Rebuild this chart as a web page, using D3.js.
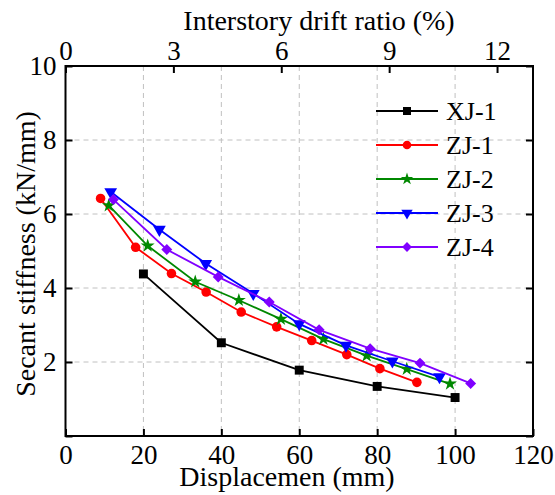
<!DOCTYPE html>
<html>
<head>
<meta charset="utf-8">
<script src="https://cdn.jsdelivr.net/npm/d3@7"></script>
<style>
  body { margin: 0; background: #fff; }
  text { font-family: "Liberation Serif", "Times New Roman", serif; fill: #000; }
</style>
</head>
<body>
<div class="graphContainer"></div>
<script>
var width = 555;
var height = 495;

// data
var seriesNames = ["XJ-1", "ZJ-1", "ZJ-2", "ZJ-3", "ZJ-4"];
var xj1X = [20, 40, 60, 80, 100];
var xj1Y = [4.38, 2.52, 1.78, 1.34, 1.04];
var zj1X = [9, 18, 27.2, 36.1, 45.1, 54.2, 63.2, 72.2, 80.7, 90.2];
var zj1Y = [6.42, 5.10, 4.39, 3.89, 3.35, 2.95, 2.58, 2.20, 1.82, 1.45];
var zj2X = [11.1, 21.1, 33.3, 44.5, 55.3, 66.2, 77.3, 87.6, 98.7];
var zj2Y = [6.23, 5.14, 4.17, 3.67, 3.16, 2.62, 2.17, 1.81, 1.41];
var zj3X = [11.6, 24.1, 36, 48.2, 60, 72, 83.9, 96];
var zj3Y = [6.60, 5.58, 4.66, 3.85, 3.03, 2.45, 2.02, 1.60];
var zj4X = [12.3, 26, 39.2, 52.3, 65.1, 78.2, 91, 104];
var zj4Y = [6.39, 5.04, 4.30, 3.62, 2.87, 2.36, 1.97, 1.42];

var xTicks = [0, 20, 40, 60, 80, 100, 120];
var topTicks = [0, 3, 6, 9, 12];
var yTicks = [0, 2, 4, 6, 8, 10];

var colors = ["#000000", "#ff0000", "#008800", "#0000ff", "#8000ff"];

var svg = d3
  .select(".graphContainer")
  .append("svg")
  .attr("width", width)
  .attr("height", height);

var pLeft = 65.5, pRight = 533, pTop = 66, pBottom = 436;

var xScale = d3.scaleLinear().domain([0, 120]).range([pLeft, pRight]);
var topScale = d3.scaleLinear().domain([0, 13]).range([pLeft, pRight]);
var yScale = d3.scaleLinear().domain([0, 10]).range([pBottom, pTop]);

// grid
var grid = svg.append("g").attr("stroke", "#c0c0c0").attr("stroke-width", 1).attr("stroke-dasharray", "5,4");
grid.selectAll("line.vx")
  .data([20, 40, 60, 80, 100])
  .enter()
  .append("line")
  .attr("class", "vx")
  .attr("x1", (d) => xScale(d))
  .attr("x2", (d) => xScale(d))
  .attr("y1", pTop)
  .attr("y2", pBottom);
grid.selectAll("line.hy")
  .data([2, 4, 6, 8])
  .enter()
  .append("line")
  .attr("class", "hy")
  .attr("x1", pLeft)
  .attr("x2", pRight)
  .attr("y1", (d) => yScale(d))
  .attr("y2", (d) => yScale(d));

// axes
function styleAxis(g, size) {
  g.select(".domain").remove();
  g.selectAll(".tick line").attr("stroke", "#000").attr("stroke-width", 2);
  g.selectAll(".tick text").style("font-size", size + "px").attr("fill", "#000");
}

svg.append("g")
  .attr("transform", "translate(0," + pBottom + ")")
  .call(d3.axisBottom(xScale).tickValues(xTicks).tickSizeInner(-7).tickSizeOuter(0).tickPadding(9))
  .call((g) => styleAxis(g, 27));

svg.append("g")
  .attr("transform", "translate(0," + pTop + ")")
  .call(d3.axisTop(topScale).tickValues(topTicks).tickSizeInner(-7).tickSizeOuter(0).tickPadding(6))
  .call((g) => styleAxis(g, 27));

svg.append("g")
  .attr("transform", "translate(" + pLeft + ",0)")
  .call(d3.axisLeft(yScale).tickValues(yTicks).tickSizeInner(-7).tickSizeOuter(0).tickPadding(9)
    .tickFormat((d) => (d === 0 ? "" : d)))
  .call((g) => styleAxis(g, 27));

svg.append("g")
  .attr("transform", "translate(" + pRight + ",0)")
  .call(d3.axisRight(yScale).tickValues(yTicks).tickSizeInner(-7).tickSizeOuter(0).tickFormat(""))
  .call((g) => styleAxis(g, 27));

// frame
svg.append("rect")
  .attr("x", pLeft)
  .attr("y", pTop)
  .attr("width", pRight - pLeft)
  .attr("height", pBottom - pTop)
  .attr("fill", "none")
  .attr("stroke", "#000")
  .attr("stroke-width", 2);

// titles
svg.append("text")
  .attr("x", 319)
  .attr("y", 30)
  .attr("text-anchor", "middle")
  .style("font-size", "28px")
  .text("Interstory drift ratio (%)");

svg.append("text")
  .attr("x", 287)
  .attr("y", 486)
  .attr("text-anchor", "middle")
  .style("font-size", "28px")
  .text("Displacemen (mm)");

svg.append("text")
  .attr("transform", "translate(35,254) rotate(-90)")
  .attr("text-anchor", "middle")
  .style("font-size", "28px")
  .text("Secant stiffness (kN/mm)");

// series
var series = [
  { name: seriesNames[0], xs: xj1X, ys: xj1Y, symbol: d3.symbolSquare, size: 80, rot: 0 },
  { name: seriesNames[1], xs: zj1X, ys: zj1Y, symbol: d3.symbolCircle, size: 72, rot: 0 },
  { name: seriesNames[2], xs: zj2X, ys: zj2Y, symbol: d3.symbolStar, size: 60, rot: 0 },
  { name: seriesNames[3], xs: zj3X, ys: zj3Y, symbol: d3.symbolTriangle, size: 70, rot: 180 },
  { name: seriesNames[4], xs: zj4X, ys: zj4Y, symbol: d3.symbolSquare, size: 60, rot: 45 }
];

var line = d3.line()
  .x((d) => xScale(d[0]))
  .y((d) => yScale(d[1]));

series.forEach(function (s, i) {
  var pts = s.xs.map((x, j) => [x, s.ys[j]]);
  svg.append("path")
    .datum(pts)
    .attr("d", line)
    .attr("fill", "none")
    .attr("stroke", colors[i])
    .attr("stroke-width", 1.8);
  svg.selectAll("path.m" + i)
    .data(pts)
    .enter()
    .append("path")
    .attr("class", "m" + i)
    .attr("d", d3.symbol().type(s.symbol).size(s.size))
    .attr("transform", (d) => "translate(" + xScale(d[0]) + "," + yScale(d[1]) + ") rotate(" + s.rot + ")")
    .attr("fill", colors[i]);
});

// legend
var legend = svg.append("g").attr("id", "legend");
series.forEach(function (s, i) {
  var ly = 111 + i * 34;
  legend.append("line")
    .attr("x1", 376)
    .attr("x2", 438)
    .attr("y1", ly)
    .attr("y2", ly)
    .attr("stroke", colors[i])
    .attr("stroke-width", 1.8);
  legend.append("path")
    .attr("d", d3.symbol().type(s.symbol).size(s.size * 0.8))
    .attr("transform", "translate(407," + ly + ") rotate(" + s.rot + ")")
    .attr("fill", colors[i]);
  legend.append("text")
    .attr("x", 446)
    .attr("y", ly + 9)
    .style("font-size", "26px")
    .text(s.name);
});
</script>
</body>
</html>
